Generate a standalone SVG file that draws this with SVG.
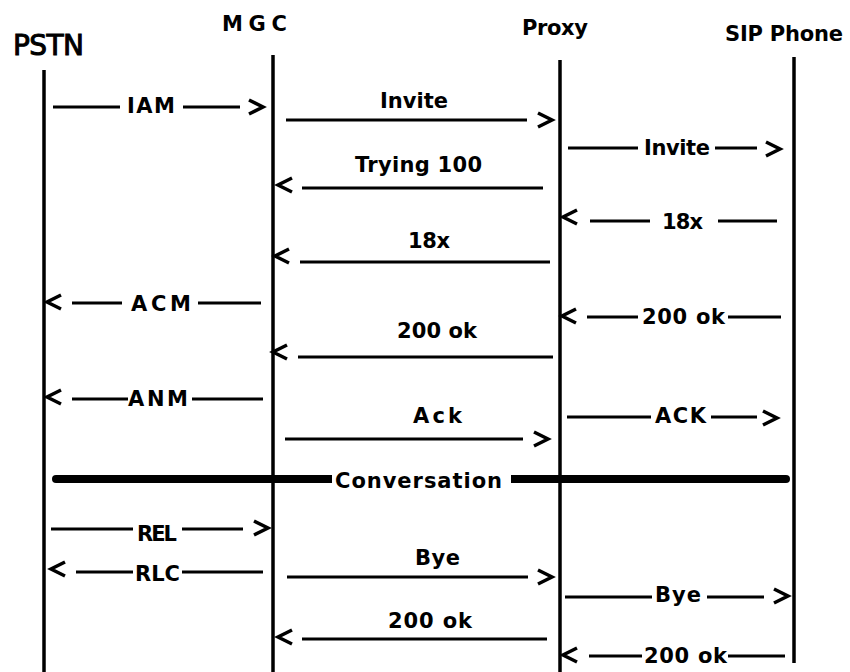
<svg xmlns="http://www.w3.org/2000/svg" xmlns:xlink="http://www.w3.org/1999/xlink" width="850" height="672" viewBox="0 0 850 672">
<style>
.life{stroke:#000;stroke-width:3.5;fill:none}
.msg{stroke:#000;stroke-width:3;fill:none}
.conv{stroke:#000;stroke-width:8;fill:none}
.hd{font-family:"DejaVu Sans","Liberation Sans",sans-serif;font-weight:bold;font-size:21px;fill:#000}
.hd1{font-family:"DejaVu Sans","Liberation Sans",sans-serif;font-size:28px;fill:#000;stroke:#000;stroke-width:1}
.lb{font-family:"DejaVu Sans","Liberation Sans",sans-serif;font-weight:bold;font-size:21px;fill:#000}
</style>
<defs>
<path id="ar" d="M-14,-7 L0,0 L-14,7" fill="none" stroke="#000" stroke-width="3.5" stroke-linejoin="miter"/>
<path id="al" d="M14,-7 L0,0 L14,7" fill="none" stroke="#000" stroke-width="3.5" stroke-linejoin="miter"/>
</defs>
<rect width="850" height="672" fill="#fff"/>

<g id="pstn">
<text class="hd1" x="13" y="55" textLength="71">PSTN</text>
<line class="life" x1="44" y1="70" x2="44" y2="672"/>
</g>
<g id="mgc">
<text class="hd" x="222" y="31" textLength="65">MGC</text>
<line class="life" x1="273" y1="55" x2="273" y2="672"/>
</g>
<g id="proxy">
<text class="hd" x="522" y="35" textLength="66">Proxy</text>
<line class="life" x1="560" y1="60" x2="560" y2="672"/>
</g>
<g id="sip-phone">
<text class="hd" x="725" y="41" textLength="118">SIP Phone</text>
<line class="life" x1="794" y1="57" x2="794" y2="663"/>
</g>

<g id="connectors">
<g id="m-iam">
<line class="msg" x1="53" y1="107" x2="120" y2="107"/>
<text class="lb" x="127" y="113" textLength="48">IAM</text>
<line class="msg" x1="183" y1="107" x2="240" y2="107"/>
<use xlink:href="#ar" x="263" y="107"/>
</g>
<g id="m-invite1">
<text class="lb" x="380" y="108" textLength="68">Invite</text>
<line class="msg" x1="286" y1="120" x2="527" y2="120"/>
<use xlink:href="#ar" x="552" y="120"/>
</g>
<g id="m-invite2">
<line class="msg" x1="568" y1="148" x2="638" y2="148"/>
<text class="lb" x="644" y="155" textLength="66">Invite</text>
<line class="msg" x1="715" y1="148" x2="757" y2="148"/>
<use xlink:href="#ar" x="780" y="149"/>
</g>
<g id="m-trying">
<text class="lb" x="355" y="172" textLength="127">Trying 100</text>
<use xlink:href="#al" x="278" y="185"/>
<line class="msg" x1="302" y1="188" x2="543" y2="188"/>
</g>
<g id="m-18x2">
<use xlink:href="#al" x="563" y="217"/>
<line class="msg" x1="590" y1="221" x2="650" y2="221"/>
<text class="lb" x="662" y="229" textLength="41">18x</text>
<line class="msg" x1="718" y1="221" x2="777" y2="221"/>
</g>
<g id="m-18x1">
<text class="lb" x="408" y="248" textLength="42">18x</text>
<use xlink:href="#al" x="275" y="256"/>
<line class="msg" x1="300" y1="262" x2="550" y2="262"/>
</g>
<g id="m-acm">
<use xlink:href="#al" x="47" y="302"/>
<line class="msg" x1="72" y1="303" x2="122" y2="303"/>
<text class="lb" x="131" y="311" textLength="60">ACM</text>
<line class="msg" x1="198" y1="303" x2="261" y2="303"/>
</g>
<g id="m-200ok2">
<use xlink:href="#al" x="562" y="316"/>
<line class="msg" x1="587" y1="317" x2="638" y2="317"/>
<text class="lb" x="642" y="324" textLength="83">200 ok</text>
<line class="msg" x1="728" y1="317" x2="781" y2="317"/>
</g>
<g id="m-200ok1">
<text class="lb" x="397" y="338" textLength="80">200 ok</text>
<use xlink:href="#al" x="273" y="352"/>
<line class="msg" x1="298" y1="357" x2="553" y2="357"/>
</g>
<g id="m-anm">
<use xlink:href="#al" x="47" y="397"/>
<line class="msg" x1="72" y1="399" x2="128" y2="399"/>
<text class="lb" x="128" y="406" textLength="60">ANM</text>
<line class="msg" x1="192" y1="399" x2="263" y2="399"/>
</g>
<g id="m-ack1">
<text class="lb" x="413" y="423" textLength="49">Ack</text>
<line class="msg" x1="285" y1="439" x2="523" y2="439"/>
<use xlink:href="#ar" x="548" y="439"/>
</g>
<g id="m-ack2">
<line class="msg" x1="567" y1="417" x2="651" y2="417"/>
<text class="lb" x="655" y="423" textLength="51">ACK</text>
<line class="msg" x1="711" y1="417" x2="757" y2="417"/>
<use xlink:href="#ar" x="777" y="418"/>
</g>
<g id="m-conversation">
<line class="conv" x1="56" y1="479" x2="332" y2="479"/>
<circle cx="56" cy="479" r="4" fill="#000"/>
<text class="lb" x="335" y="488" textLength="167">Conversation</text>
<line class="conv" x1="511" y1="479" x2="786" y2="479"/>
<circle cx="786" cy="479" r="4" fill="#000"/>
</g>
<g id="m-rel">
<line class="msg" x1="51" y1="529" x2="133" y2="529"/>
<text class="lb" x="137" y="541" textLength="40">REL</text>
<line class="msg" x1="182" y1="529" x2="243" y2="529"/>
<use xlink:href="#ar" x="268" y="528"/>
</g>
<g id="m-rlc">
<use xlink:href="#al" x="51" y="569"/>
<line class="msg" x1="76" y1="572" x2="133" y2="572"/>
<text class="lb" x="135" y="581" textLength="45">RLC</text>
<line class="msg" x1="182" y1="572" x2="263" y2="572"/>
</g>
<g id="m-bye1">
<text class="lb" x="415" y="565" textLength="45">Bye</text>
<line class="msg" x1="287" y1="577" x2="528" y2="577"/>
<use xlink:href="#ar" x="552" y="577"/>
</g>
<g id="m-bye2">
<line class="msg" x1="565" y1="597" x2="652" y2="597"/>
<text class="lb" x="655" y="602" textLength="46">Bye</text>
<line class="msg" x1="707" y1="597" x2="764" y2="597"/>
<use xlink:href="#ar" x="788" y="596"/>
</g>
<g id="m-200ok3">
<text class="lb" x="388" y="628" textLength="84">200 ok</text>
<use xlink:href="#al" x="278" y="637"/>
<line class="msg" x1="302" y1="639" x2="547" y2="639"/>
</g>
<g id="m-200ok4">
<use xlink:href="#al" x="563" y="655"/>
<line class="msg" x1="589" y1="656" x2="642" y2="656"/>
<text class="lb" x="644" y="663" textLength="83">200 ok</text>
<line class="msg" x1="728" y1="656" x2="785" y2="656"/>
</g>
</g>
</svg>
